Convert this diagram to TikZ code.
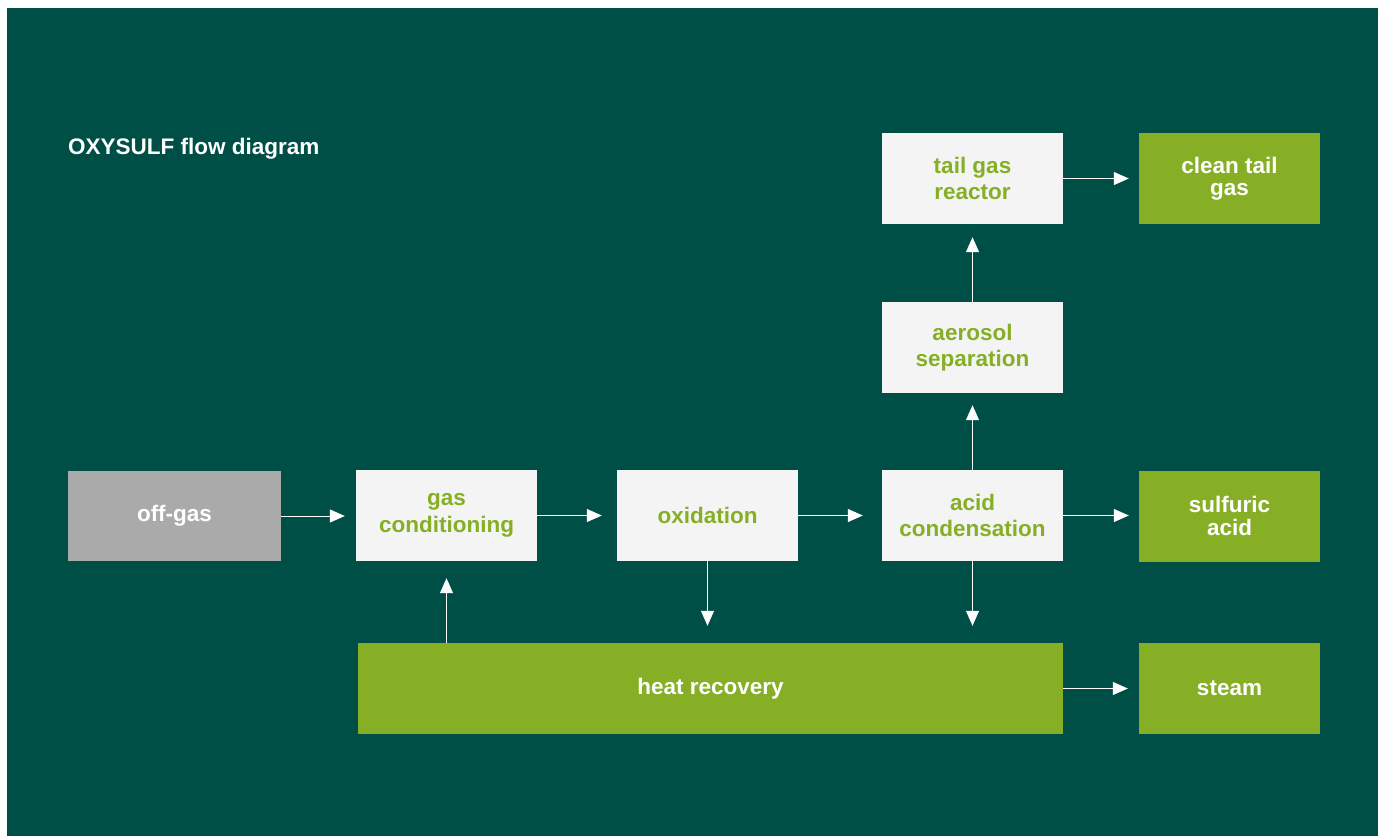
\documentclass[tikz,border=0pt]{standalone}
\usepackage{fontspec}
\setmainfont{Liberation Sans}
\usetikzlibrary{arrows.meta,calc}
\definecolor{bgdark}{HTML}{004F46}
\definecolor{lightbox}{HTML}{F4F4F4}
\definecolor{limegreen}{HTML}{86AF26}
\definecolor{greybox}{HTML}{AAAAAA}
\tikzset{
  base/.style={rectangle, inner sep=0pt, align=center, font=\bfseries\fontsize{22.5}{26.5}\selectfont},
  lbox/.style={base, fill=lightbox, text=limegreen, minimum width=181pt, minimum height=91pt},
  gbox/.style={base, fill=limegreen, text=white, minimum width=181pt, minimum height=91pt, font=\bfseries\fontsize{22.5}{22.5}\selectfont},
  srcbox/.style={base, fill=greybox, text=white, minimum width=213pt, minimum height=90pt},
  flow/.style={draw=white, line width=1pt, -{Triangle[length=15pt,width=13pt]}},
  titletext/.style={anchor=base west, inner sep=0pt, text=white, font=\bfseries\fontsize{22.5}{26.5}\selectfont}
}
\begin{document}
\begin{tikzpicture}[x=1pt,y=-1pt]
\useasboundingbox (0,0) rectangle (1378,836);
\fill[white] (0,0) rectangle (1378,836);
\fill[bgdark] (7,8) rectangle (1378,836);
\node[titletext] (title) at (68,154) {OXYSULF flow diagram};
\node[srcbox] (offgas) at (174.5,516) {off-gas};
\node[lbox] (gascond) at (446.5,515.5) {gas\\conditioning};
\node[lbox] (oxid) at (707.5,515.5) {oxidation};
\node[lbox] (acid) at (972.5,515.5) {acid\\condensation};
\node[gbox] (sulf) at (1229.5,516) {sulfuric\\acid};
\node[lbox] (aerosol) at (972.5,347.5) {aerosol\\separation};
\node[lbox] (tgr) at (972.5,178.5) {tail gas\\reactor};
\node[gbox] (clean) at (1229.5,178.5) {clean tail\\gas};
\node[gbox, minimum width=705pt] (heat) at (710.5,688.5) {heat recovery};
\node[gbox] (steam) at (1229.5,688.5) {steam};
\draw[flow, shorten >=11pt] (offgas.east) -- (gascond.west |- offgas.east);
\draw[flow, shorten >=15pt] (gascond.east) -- (oxid.west);
\draw[flow, shorten >=19pt] (oxid.east) -- (acid.west);
\draw[flow, shorten >=10pt] (acid.east) -- (sulf.west |- acid.east);
\draw[flow, shorten >=10pt] (tgr.east) -- (clean.west);
\draw[flow, shorten >=11pt] (heat.east) -- (steam.west);
\draw[flow, shorten >=12pt] (acid.north) -- (aerosol.south);
\draw[flow, shorten >=13pt] (aerosol.north) -- (tgr.south);
\draw[flow, shorten >=17pt] (oxid.south) -- (oxid.south |- heat.north);
\draw[flow, shorten >=17pt] (acid.south) -- (acid.south |- heat.north);
\draw[flow, shorten >=17pt] (heat.north -| gascond.south) -- (gascond.south);
\end{tikzpicture}
\end{document}
